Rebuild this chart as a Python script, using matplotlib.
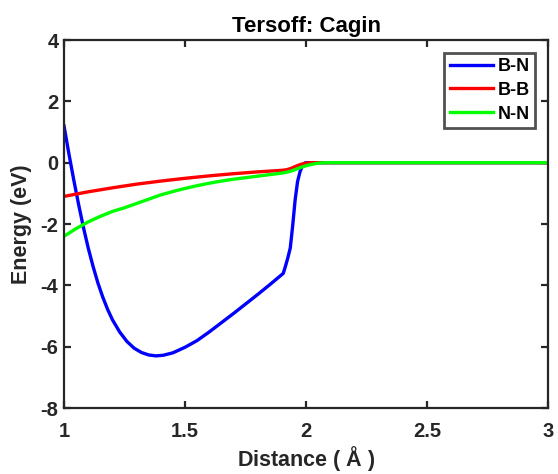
import matplotlib
matplotlib.use("Agg")
import matplotlib.pyplot as plt

plt.rcParams['font.family'] = ['Liberation Sans', 'DejaVu Sans']
plt.rcParams['font.weight'] = 'bold'
plt.rcParams['mathtext.fontset'] = 'custom'
plt.rcParams['mathtext.rm'] = 'Liberation Sans'
plt.rcParams['axes.unicode_minus'] = False

bn_x = [1.00, 1.02, 1.04, 1.06, 1.08, 1.10, 1.12, 1.14, 1.16, 1.18, 1.20, 1.23, 1.26,
        1.29, 1.32, 1.35, 1.38, 1.41, 1.45, 1.50, 1.55, 1.60, 1.65, 1.70, 1.75, 1.80,
        1.85, 1.906, 1.915, 1.925, 1.935, 1.945, 1.955, 1.965, 1.975, 1.985, 1.995,
        2.00, 3.00]
bn_y = [1.20, 0.30, -0.55, -1.35, -2.10, -2.78, -3.38, -3.92, -4.38, -4.78, -5.12,
        -5.52, -5.83, -6.05, -6.19, -6.27, -6.30, -6.28, -6.20, -6.02, -5.80, -5.52,
        -5.22, -4.92, -4.61, -4.30, -3.98, -3.61, -3.38, -3.10, -2.78, -2.05, -1.22,
        -0.62, -0.30, -0.10, -0.01, 0.0, 0.0]

bb_x = [1.00, 1.10, 1.20, 1.30, 1.40, 1.50, 1.60, 1.70, 1.80, 1.90, 1.92, 1.94,
        1.96, 1.98, 2.00, 2.02, 3.00]
bb_y = [-1.10, -0.95, -0.82, -0.70, -0.60, -0.51, -0.43, -0.36, -0.30, -0.25,
        -0.23, -0.18, -0.11, -0.05, -0.015, 0.0, 0.0]

nn_x = [1.00, 1.05, 1.10, 1.15, 1.20, 1.25, 1.30, 1.35, 1.40, 1.45, 1.50, 1.55,
        1.60, 1.65, 1.70, 1.75, 1.80, 1.85, 1.90, 1.92, 1.94, 1.96, 1.98, 2.00,
        2.02, 2.04, 2.06, 2.08, 3.00]
nn_y = [-2.40, -2.15, -1.93, -1.75, -1.59, -1.47, -1.33, -1.19, -1.05, -0.94,
        -0.84, -0.75, -0.67, -0.60, -0.54, -0.49, -0.44, -0.39, -0.34, -0.31,
        -0.27, -0.21, -0.15, -0.10, -0.06, -0.03, -0.01, 0.0, 0.0]

labels = ['B-N', 'B-B', 'N-N']
colors = ['#0000ff', '#ff0000', '#00ff00']

fig = plt.figure(figsize=(5.58, 4.74), dpi=100)
ax = fig.add_axes([0.1147, 0.1392, 0.8674, 0.7764])

for xs, ys, lab, c in zip([bn_x, bb_x, nn_x], [bn_y, bb_y, nn_y], labels, colors):
    ax.plot(xs, ys, color=c, lw=2.4, label=lab)

ax.set_xlim(1, 3)
ax.set_ylim(-8, 4)
ax.set_xticks([1, 1.5, 2, 2.5, 3])
ax.set_xticklabels(['1', '1.5', '2', '2.5', '3'])
ax.set_yticks([-8, -6, -4, -2, 0, 2, 4])

dark = '#262626'
for s in ax.spines.values():
    s.set_linewidth(1.6)
    s.set_color(dark)
ax.tick_params(direction='in', length=5, width=1.6, colors=dark, labelsize=14.5,
               top=True, right=True)
ax.tick_params(axis='x', pad=10)
ax.tick_params(axis='y', pad=4)
for t in ax.get_xticklabels() + ax.get_yticklabels():
    t.set_fontweight('bold')

ax.set_title('Tersoff: Cagin', fontsize=16, fontweight='bold', pad=6)
ax.set_xlabel(r'Distance ( $\mathrm{\AA}$ )', fontsize=15.5, fontweight='bold', color=dark, labelpad=2)
ax.set_ylabel('Energy (eV)', fontsize=15.5, fontweight='bold', color=dark, labelpad=6)

leg = ax.legend(loc='upper right', bbox_to_anchor=(0.973, 0.966), borderaxespad=0,
                fontsize=13, frameon=True, fancybox=False, handlelength=2.4,
                handletextpad=0.25, labelspacing=0.38, borderpad=0.3)
leg.get_frame().set_edgecolor(dark)
leg.get_frame().set_linewidth(2.0)
for t in leg.get_texts():
    t.set_fontweight('bold')

fig.savefig('out.png', dpi=100)
